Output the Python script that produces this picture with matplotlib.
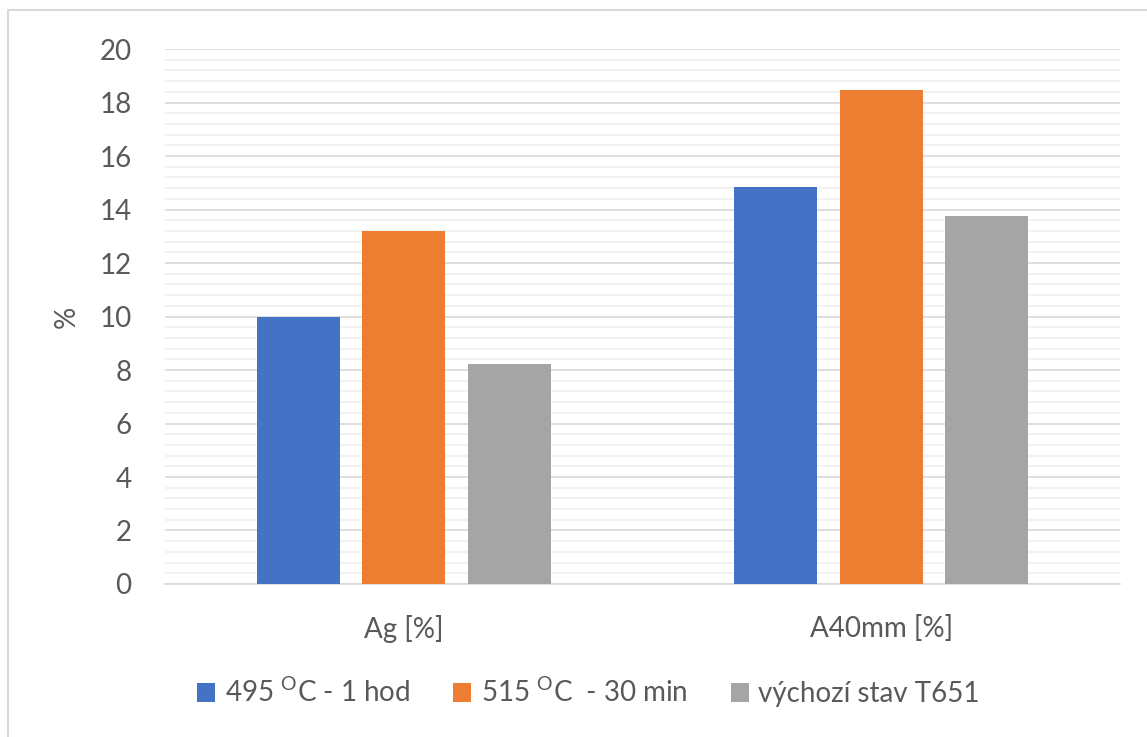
import matplotlib.pyplot as plt
import numpy as np
from matplotlib.patches import Rectangle
from matplotlib.ticker import MultipleLocator

plt.rcParams["font.family"] = ["Lato", "DejaVu Sans"]
plt.rcParams["mathtext.fontset"] = "custom"
plt.rcParams["mathtext.rm"] = "Lato"

categories = ["Ag [%]", "A40mm [%]"]
series_names = ["495 $^{\\mathrm{O}}$C - 1 hod", "515 $^{\\mathrm{O}}$C  - 30 min", "výchozí stav T651"]
values_495 = [10.0, 14.85]
values_515 = [13.2, 18.45]
values_t651 = [8.22, 13.75]
colors = ["#4472C4", "#ED7D31", "#A5A5A5"]

text_color = "#595959"

fig = plt.figure(figsize=(11.47, 7.37), dpi=100)
ax = fig.add_axes([0.1439, 0.2076, 0.8325, 0.7259])

x = np.arange(len(categories))
offset = 0.2214
width = 0.174
for i, (vals, name, col) in enumerate(zip([values_495, values_515, values_t651], series_names, colors)):
    ax.bar(x + (i - 1) * offset, vals, width=width, color=col, label=name, zorder=3)

ax.set_xlim(-0.5, 1.5)
ax.set_ylim(0, 20)
ax.yaxis.set_major_locator(MultipleLocator(2))
ax.yaxis.set_minor_locator(MultipleLocator(0.4))
ax.grid(axis="y", which="major", color="#D9D9D9", linewidth=1.2, zorder=0)
ax.grid(axis="y", which="minor", color="#F0F0F0", linewidth=1.2, zorder=0)
ax.set_axisbelow(True)

for side in ["top", "right", "left"]:
    ax.spines[side].set_visible(False)
ax.spines["bottom"].set_color("#D9D9D9")
ax.spines["bottom"].set_linewidth(1.2)

ax.set_xticks(x)
ax.set_xticklabels(categories)
ax.tick_params(axis="x", length=0, pad=22, labelsize=20, labelcolor=text_color)
ax.tick_params(axis="y", which="both", length=0, pad=24, labelsize=20, labelcolor=text_color)
ax.set_ylabel("%", fontsize=20, color=text_color, labelpad=14)

handles, labels = ax.get_legend_handles_labels()
fig.legend(handles, labels, loc="center", bbox_to_anchor=(0.513, 0.061), ncol=3, frameon=False,
           fontsize=20, labelcolor=text_color, handlelength=0.65, handleheight=0.65,
           handletextpad=0.35, columnspacing=1.55)

# outer chart border
fig.patches.append(Rectangle((8 / 1147, -0.05), 1.2, 1 - 10 / 737 + 0.05, transform=fig.transFigure,
                             fill=False, edgecolor="#D9D9D9", linewidth=1.5))

fig.savefig("out.png", dpi=100)
